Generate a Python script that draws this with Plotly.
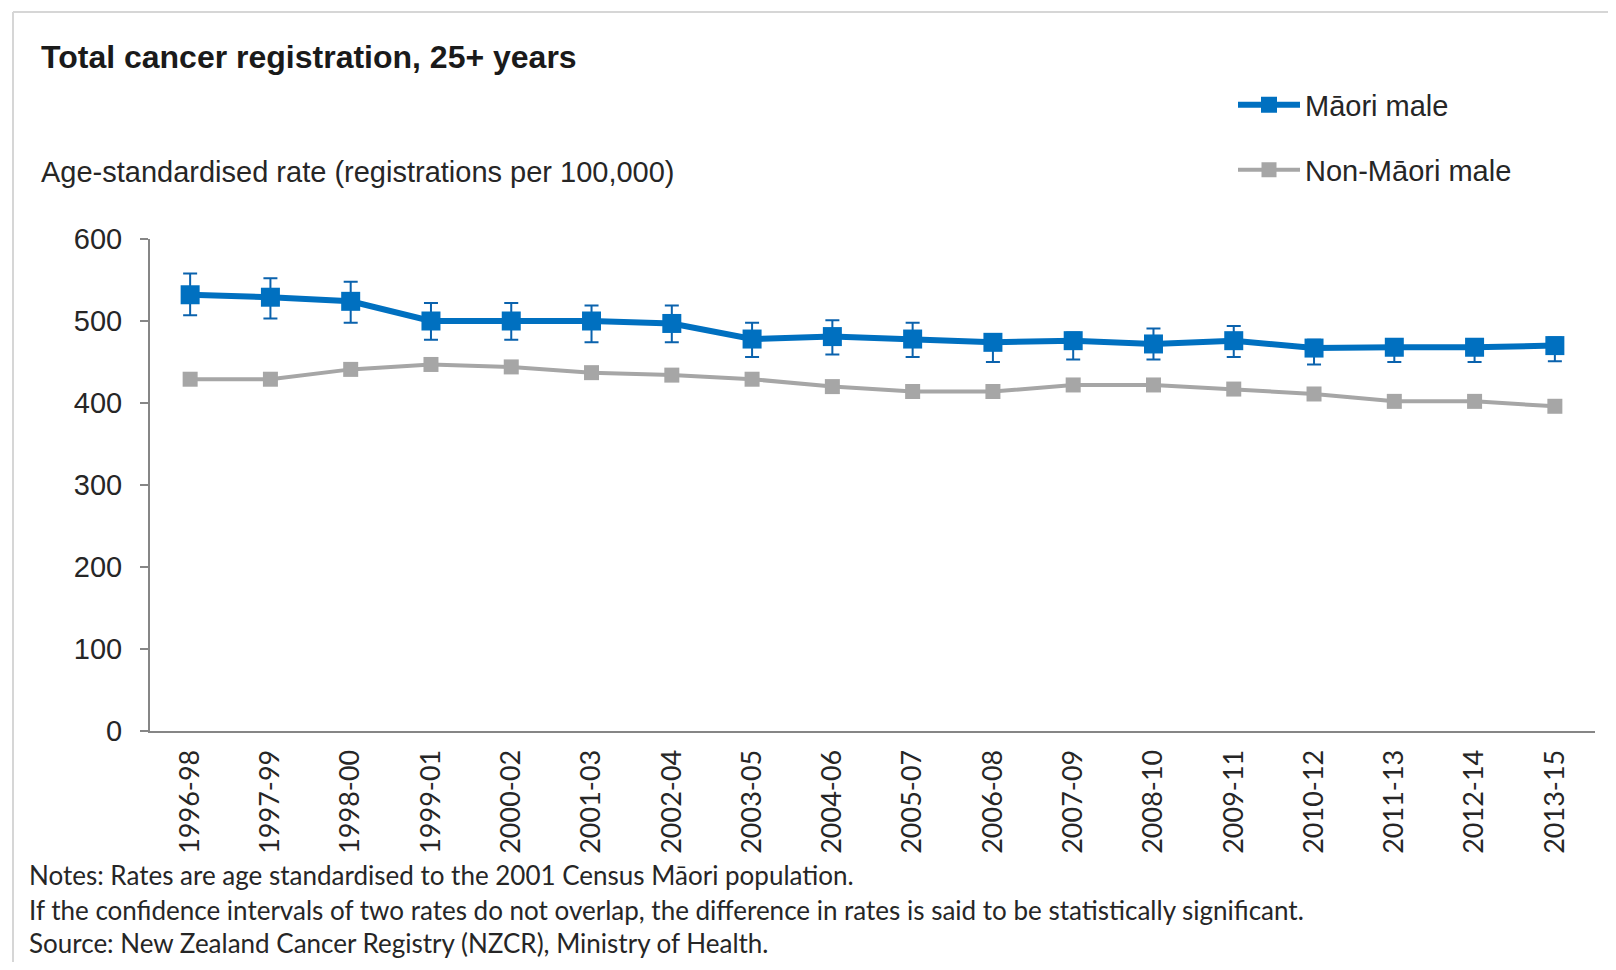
import plotly.graph_objects as go

periods = ["1996-98", "1997-99", "1998-00", "1999-01", "2000-02", "2001-03",
           "2002-04", "2003-05", "2004-06", "2005-07", "2006-08", "2007-09",
           "2008-10", "2009-11", "2010-12", "2011-13", "2012-14", "2013-15"]
maori_rate = [532, 529, 524, 500, 500, 500, 497, 478, 481, 478, 474, 476, 472, 476, 467, 468, 468, 470]
maori_upper = [558, 552, 548, 522, 522, 519, 519, 498, 501, 498, 484, 486, 491, 494, 477, 478, 478, 480]
maori_lower = [507, 503, 498, 477, 477, 474, 474, 456, 459, 456, 450, 453, 453, 456, 447, 450, 450, 451]
nonmaori_rate = [429, 429, 441, 447, 444, 437, 434, 429, 420, 414, 414, 422, 422, 417, 411, 402, 402, 396]
y_ticks = [0, 100, 200, 300, 400, 500, 600]

# page is 1616x970; the html body adds an 8px margin
OFF = 8
W, H = 1616 - 2 * OFF, 970 - 2 * OFF
# plot area in page pixels: x 150..1595, y 239..731
PL, PR, PT, PB = 150, 1595, 239, 731
L = PL - OFF
T = PT - OFF
R = W - (PR - OFF)
B = H - (PB - OFF)
PW, PH = W - L - R, H - T - B

def xp(px):
    return (px - OFF - L) / PW

def yp(py):
    return (H - B - (py - OFF)) / PH

BLUE = "#0070C0"
GREY = "#A6A6A6"
SANS = "Liberation Sans, Arial, sans-serif"
NOTE_FONT = "Lato, sans-serif"
TXT = "#262626"

err_plus = [u - m for u, m in zip(maori_upper, maori_rate)]
err_minus = [m - lo for m, lo in zip(maori_rate, maori_lower)]

fig = go.Figure()
fig.add_trace(go.Scatter(
    x=periods, y=nonmaori_rate, name="Non-Māori male", mode="lines+markers",
    line=dict(color=GREY, width=4),
    marker=dict(symbol="square", size=15, color=GREY),
    legend="legend2",
))
fig.add_trace(go.Scatter(
    x=periods, y=maori_rate, name="Māori male", mode="lines+markers",
    line=dict(color=BLUE, width=6),
    marker=dict(symbol="square", size=19, color=BLUE),
    error_y=dict(type="data", symmetric=False, array=err_plus, arrayminus=err_minus,
                 color="#0a62ad", thickness=2, width=7),
    legend="legend",
))

fig.update_layout(
    width=W, height=H,
    margin=dict(l=L, r=R, t=T, b=B),
    paper_bgcolor="white", plot_bgcolor="white",
    font=dict(family=SANS, size=29, color=TXT),
    showlegend=True,
    legend=dict(x=xp(1233), y=yp(105), xanchor="left", yanchor="middle",
                bgcolor="rgba(0,0,0,0)", itemwidth=62,
                font=dict(family=SANS, size=29, color=TXT)),
    legend2=dict(x=xp(1233), y=yp(170), xanchor="left", yanchor="middle",
                 bgcolor="rgba(0,0,0,0)", itemwidth=62,
                 font=dict(family=SANS, size=29, color=TXT)),
    xaxis=dict(
        type="category", categoryorder="array", categoryarray=periods,
        tickangle=-90, showgrid=False, zeroline=False,
        showline=True, linecolor="#868686", linewidth=2,
        ticks="", ticklabelstandoff=6,
        tickfont=dict(family=NOTE_FONT, size=27, color=TXT),
        range=[-0.5, len(periods) - 0.5],
    ),
    yaxis=dict(
        range=[0, 600], tickvals=y_ticks, showgrid=False, zeroline=False,
        showline=True, linecolor="#868686", linewidth=2,
        ticks="outside", ticklen=8, tickcolor="#868686", tickwidth=2,
        ticklabelstandoff=12,
        tickfont=dict(family=SANS, size=29, color=TXT),
    ),
)

annotations = [
    dict(text="<b>Total cancer registration, 25+ years</b>", x=xp(39), y=yp(57),
         font=dict(family=SANS, size=32, color="#1a1a1a")),
    dict(text="Age-standardised rate (registrations per 100,000)", x=xp(39), y=yp(172),
         font=dict(family=SANS, size=29, color=TXT)),
    dict(text="Notes: Rates are age standardised to the 2001 Census Māori population.",
         x=xp(27), y=yp(875), font=dict(family=NOTE_FONT, size=26, color=TXT)),
    dict(text="If the confidence intervals of two rates do not overlap, the difference in rates is said to be statistically significant.",
         x=xp(27), y=yp(910), font=dict(family=NOTE_FONT, size=26, color=TXT)),
    dict(text="Source: New Zealand Cancer Registry (NZCR), Ministry of Health.",
         x=xp(27), y=yp(943), font=dict(family=NOTE_FONT, size=26, color=TXT)),
]
for a in annotations:
    a.update(xref="paper", yref="paper", xanchor="left", yanchor="middle",
             showarrow=False, align="left")
fig.update_layout(annotations=annotations)

fig.update_layout(shapes=[
    dict(type="line", xref="paper", yref="paper", x0=xp(13), x1=xp(1630),
         y0=yp(12), y1=yp(12), line=dict(color="#d6d6d6", width=2)),
    dict(type="line", xref="paper", yref="paper", x0=xp(13), x1=xp(13),
         y0=yp(12), y1=yp(990), line=dict(color="#d6d6d6", width=2)),
])

fig.write_html("out.html")
